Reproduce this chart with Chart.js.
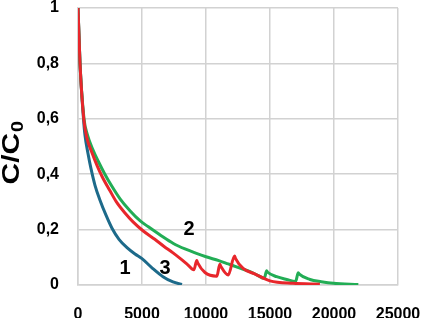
<!DOCTYPE html>
<html>
<head>
<meta charset="utf-8">
<script src="https://cdn.jsdelivr.net/npm/chart.js@4"></script>
<style>
html,body{margin:0;padding:0;background:#fff;}
#wrap{width:423px;height:318px;}
</style>
</head>
<body>
<div id="wrap"><canvas id="c" width="423" height="318"></canvas></div>
<script>
// Series 1 (blue)
const s1X = [0, 78, 156, 430, 547, 781, 1016, 1328, 1719, 2188, 2656, 3203, 3828, 4453, 5000, 5780, 6640, 7420, 8125];
const s1Y = [1, 0.9, 0.8, 0.6, 0.54, 0.475, 0.42, 0.36, 0.306, 0.252, 0.205, 0.165, 0.135, 0.112, 0.095, 0.062, 0.03, 0.011, 0.002];
// Series 2 (green)
const s2X = [0, 78, 156, 470, 750, 1150, 1600, 2100, 2600, 3300, 4060, 4840, 5500, 6500, 7450, 8360, 9200, 10000, 11000, 11740, 12600, 13440, 14000, 14550, 14740, 14820, 15520, 16300, 17000, 17210, 17290, 18125, 19000, 19950, 21900];
const s2Y = [1, 0.9, 0.8, 0.6, 0.54, 0.49, 0.445, 0.40, 0.36, 0.31, 0.268, 0.232, 0.21, 0.178, 0.15, 0.13, 0.115, 0.102, 0.088, 0.076, 0.062, 0.048, 0.036, 0.024, 0.051, 0.046, 0.03, 0.02, 0.013, 0.044, 0.039, 0.02, 0.012, 0.006, 0.002];
// Series 3 (red)
const s3X = [0, 78, 156, 450, 700, 1070, 1500, 1900, 2500, 3000, 3670, 4300, 5100, 6000, 6700, 7450, 8000, 8600, 9050, 9280, 9350, 9920, 10850, 11080, 11150, 11740, 12230, 12300, 12900, 13800, 15000, 16800, 18900];
const s3Y = [1, 0.9, 0.8, 0.6, 0.53, 0.48, 0.43, 0.39, 0.34, 0.30, 0.26, 0.228, 0.195, 0.165, 0.14, 0.115, 0.095, 0.072, 0.055, 0.088, 0.08, 0.045, 0.032, 0.075, 0.068, 0.036, 0.105, 0.096, 0.06, 0.04, 0.015, 0.006, 0.003];

const xTicks = [0, 5000, 10000, 15000, 20000, 25000];
const yTicks = [0, 0.2, 0.4, 0.6, 0.8, 1];

// Curve labels: text and data position
const labelText = ['1', '3', '2'];
const labelX = [3670, 6800, 8670];
const labelY = [0.058, 0.058, 0.2];

const yTitle = 'C/C';
const yTitleSub = '0';

function pts(xs, ys){ return xs.map((x,i)=>({x:x, y:ys[i]})); }

const FONT = '"Liberation Sans", Arial, sans-serif';
const GRID = '#d2d2d2';

const overlay = {
  id: 'overlay',
  afterDraw(chart){
    const ctx = chart.ctx;
    const xs = chart.scales.x, ys = chart.scales.y;
    ctx.save();
    ctx.fillStyle = '#000';
    ctx.font = 'bold 20px ' + FONT;
    ctx.textAlign = 'center';
    ctx.textBaseline = 'middle';
    labelText.forEach((t,i)=>{
      ctx.fillText(t, xs.getPixelForValue(labelX[i]), ys.getPixelForValue(labelY[i]));
    });
    // rotated y title with subscript
    ctx.translate(19, 153);
    ctx.rotate(-Math.PI/2);
    ctx.scale(1.25, 1);
    ctx.font = 'bold 24px ' + FONT;
    const w1 = ctx.measureText(yTitle).width;
    ctx.font = 'bold 16px ' + FONT;
    const w2 = ctx.measureText(yTitleSub).width;
    const start = -(w1 + w2)/2;
    ctx.textAlign = 'left';
    ctx.textBaseline = 'alphabetic';
    ctx.font = 'bold 24px ' + FONT;
    ctx.fillText(yTitle, start, 0);
    ctx.font = 'bold 16px ' + FONT;
    ctx.fillText(yTitleSub, start + w1 + 0.5, 4);
    ctx.restore();
  }
};

new Chart(document.getElementById('c'), {
  type: 'scatter',
  data: {
    datasets: [
      {label:'3', data: pts(s3X, s3Y), borderColor:'#e8262b', borderWidth:3, showLine:true, pointRadius:0, cubicInterpolationMode:'monotone'},
      {label:'2', data: pts(s2X, s2Y), borderColor:'#22ad55', borderWidth:3, showLine:true, pointRadius:0, cubicInterpolationMode:'monotone'},
      {label:'1', data: pts(s1X, s1Y), borderColor:'#1d6a8a', borderWidth:3, showLine:true, pointRadius:0, cubicInterpolationMode:'monotone'}
    ]
  },
  options: {
    responsive: false,
    animation: false,
    events: [],
    layout: {padding: {left:0, right:25, top:8, bottom:0}},
    plugins: {legend:{display:false}, tooltip:{enabled:false}},
    scales: {
      x: {
        type:'linear', min:0, max:25000,
        afterBuildTicks: (s)=>{ s.ticks = xTicks.map(v=>({value:v})); },
        afterFit: (s)=>{ s.height = 33; s.paddingLeft = 0; s.paddingRight = 0; },
        grid: {color: GRID, lineWidth: 1.5, drawTicks:false},
        border: {color: GRID, width: 1.5},
        ticks: {color:'#000', font:{family:FONT, size:16, weight:'bold'}, padding:20, maxRotation:0, autoSkip:false,
          callback: (v)=>String(v)}
      },
      y: {
        type:'linear', min:0, max:1,
        afterBuildTicks: (s)=>{ s.ticks = yTicks.map(v=>({value:v})); },
        afterFit: (s)=>{ s.width = 78; s.paddingTop = 0; s.paddingBottom = 0; },
        grid: {color: GRID, lineWidth: 1.5, drawTicks:false},
        border: {color: GRID, width: 1.5},
        ticks: {color:'#000', font:{family:FONT, size:16, weight:'bold'}, padding:19, autoSkip:false,
          callback: (v)=>String(Math.round(v*10)/10).replace('.', ',')}
      }
    }
  },
  plugins: [overlay]
});
</script>
</body>
</html>
